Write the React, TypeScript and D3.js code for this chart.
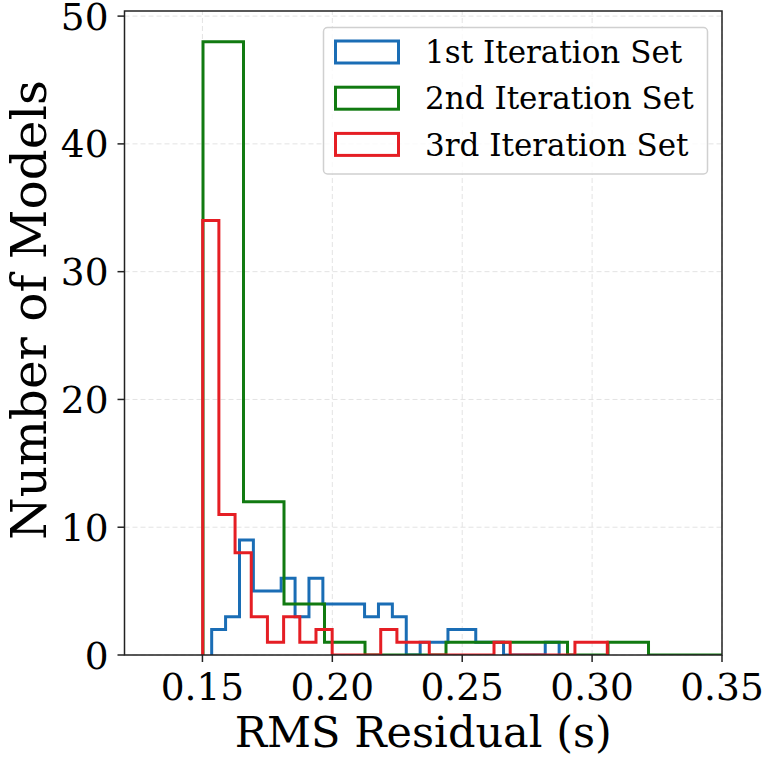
import React from "react";
import * as d3 from "d3";

const W = 767;
const H = 758;

const xTicks = [0.15, 0.2, 0.25, 0.3, 0.35];
const yTicks = [0, 10, 20, 30, 40, 50];

const seriesNames = ["1st Iteration Set", "2nd Iteration Set", "3rd Iteration Set"];
const seriesColors = ["#1a6db5", "#117a11", "#e51e24"];

// Histogram bins: start of first bin, bin width, and counts per bin
const blueStart = 0.15356;
const blueWidth = 0.00535;
const blueCounts = [2, 3, 9, 5, 5, 6, 3, 6, 4, 4, 4, 3, 4, 3, 0, 1, 1, 2, 2, 1, 1, 0, 0, 0, 1];

const greenStart = 0.15022;
const greenWidth = 0.01559;
const greenCounts = [48, 12, 4, 1, 0, 0, 1, 1, 1, 0, 1, 0, 0, 0, 0, 0, 0, 0, 0, 0, 0, 0, 0, 0, 1];

const redStart = 0.1501;
const redWidth = 0.00623;
const redCounts = [34, 11, 8, 3, 1, 3, 1, 2, 0, 0, 0, 2, 1, 1, 0, 0, 0, 0, 1, 0, 0, 0, 0, 1, 1];

const margin = { left: 124.5, right: W - 722, top: 11, bottom: H - 655 };

export default function App() {
  const x = d3.scaleLinear().domain([0.12, 0.35]).range([margin.left, W - margin.right]);
  const y = d3.scaleLinear().domain([0, 50.4]).range([H - margin.bottom, margin.top]);

  const stepPath = (start: number, width: number, counts: number[]) => {
    const pts: [number, number][] = [];
    pts.push([start, 0]);
    counts.forEach((c, i) => {
      pts.push([start + i * width, c]);
      pts.push([start + (i + 1) * width, c]);
    });
    pts.push([start + counts.length * width, 0]);
    const line = d3.line<[number, number]>().x((d) => x(d[0])).y((d) => y(d[1]));
    return line(pts) || "";
  };

  const series = [
    { start: blueStart, width: blueWidth, counts: blueCounts },
    { start: greenStart, width: greenWidth, counts: greenCounts },
    { start: redStart, width: redWidth, counts: redCounts },
  ];

  const x0 = margin.left;
  const x1 = W - margin.right;
  const y0 = H - margin.bottom;
  const y1 = margin.top;
  const font = "'DejaVu Serif', serif";

  const legX = 323.5;
  const legY = 27.5;
  const legW = 384;
  const legH = 146.5;

  return (
    <svg width={W} height={H} style={{ position: "absolute", left: 0, top: 0, background: "#fff" }}>
      <defs>
        <clipPath id="plotclip">
          <rect x={x0} y={y1} width={x1 - x0} height={y0 - y1} />
        </clipPath>
      </defs>
      <rect x={0} y={0} width={W} height={H} fill="#fff" />
      {/* grid */}
      <g stroke="#e3e3e3" strokeWidth={1} strokeDasharray="5,3">
        {xTicks.map((t) => (
          <line key={"gx" + t} x1={x(t)} x2={x(t)} y1={y0} y2={y1} />
        ))}
        {yTicks.map((t) => (
          <line key={"gy" + t} x1={x0} x2={x1} y1={y(t)} y2={y(t)} />
        ))}
      </g>
      {/* histograms */}
      <g clipPath="url(#plotclip)" fill="none" strokeWidth={3} strokeLinejoin="miter">
        {series.map((s, i) => (
          <path key={i} d={stepPath(s.start, s.width, s.counts)} stroke={seriesColors[i]} />
        ))}
      </g>
      {/* spines */}
      <rect x={x0} y={y1} width={x1 - x0} height={y0 - y1} fill="none" stroke="#222" strokeWidth={1.5} />
      {/* x ticks */}
      {xTicks.map((t) => (
        <g key={"xt" + t}>
          <line x1={x(t)} x2={x(t)} y1={y0} y2={y0 + 7} stroke="#222" strokeWidth={1.5} />
          <text x={x(t)} y={y0 + 45} textAnchor="middle" fontFamily={font} fontSize={37.5} fill="#000">
            {t.toFixed(2)}
          </text>
        </g>
      ))}
      {/* y ticks */}
      {yTicks.map((t) => (
        <g key={"yt" + t}>
          <line x1={x0 - 7} x2={x0} y1={y(t)} y2={y(t)} stroke="#222" strokeWidth={1.5} />
          <text x={x0 - 16} y={y(t)} dy="0.36em" textAnchor="end" fontFamily={font} fontSize={37.5} fill="#000">
            {t}
          </text>
        </g>
      ))}
      {/* axis labels */}
      <text x={(x0 + x1) / 2} y={747} textAnchor="middle" fontFamily={font} fontSize={43} fill="#000">
        RMS Residual (s)
      </text>
      <text
        transform={`translate(46, 310) rotate(-90)`}
        textAnchor="middle"
        fontFamily={font}
        fontSize={48.5}
        fill="#000"
      >
        Number of Models
      </text>
      {/* legend */}
      <rect x={legX} y={legY} width={legW} height={legH} rx={4} fill="#fff" fillOpacity={0.8} stroke="#d0d0d0" strokeWidth={1.5} />
      {seriesNames.map((n, i) => {
        const cy = 52 + i * 46.2;
        return (
          <g key={n}>
            <rect x={335.5} y={cy - 11} width={63} height={22} fill="none" stroke={seriesColors[i]} strokeWidth={3} />
            <text x={425} y={cy} dy="0.36em" fontFamily={font} fontSize={31} fill="#000">
              {n}
            </text>
          </g>
        );
      })}
    </svg>
  );
}
